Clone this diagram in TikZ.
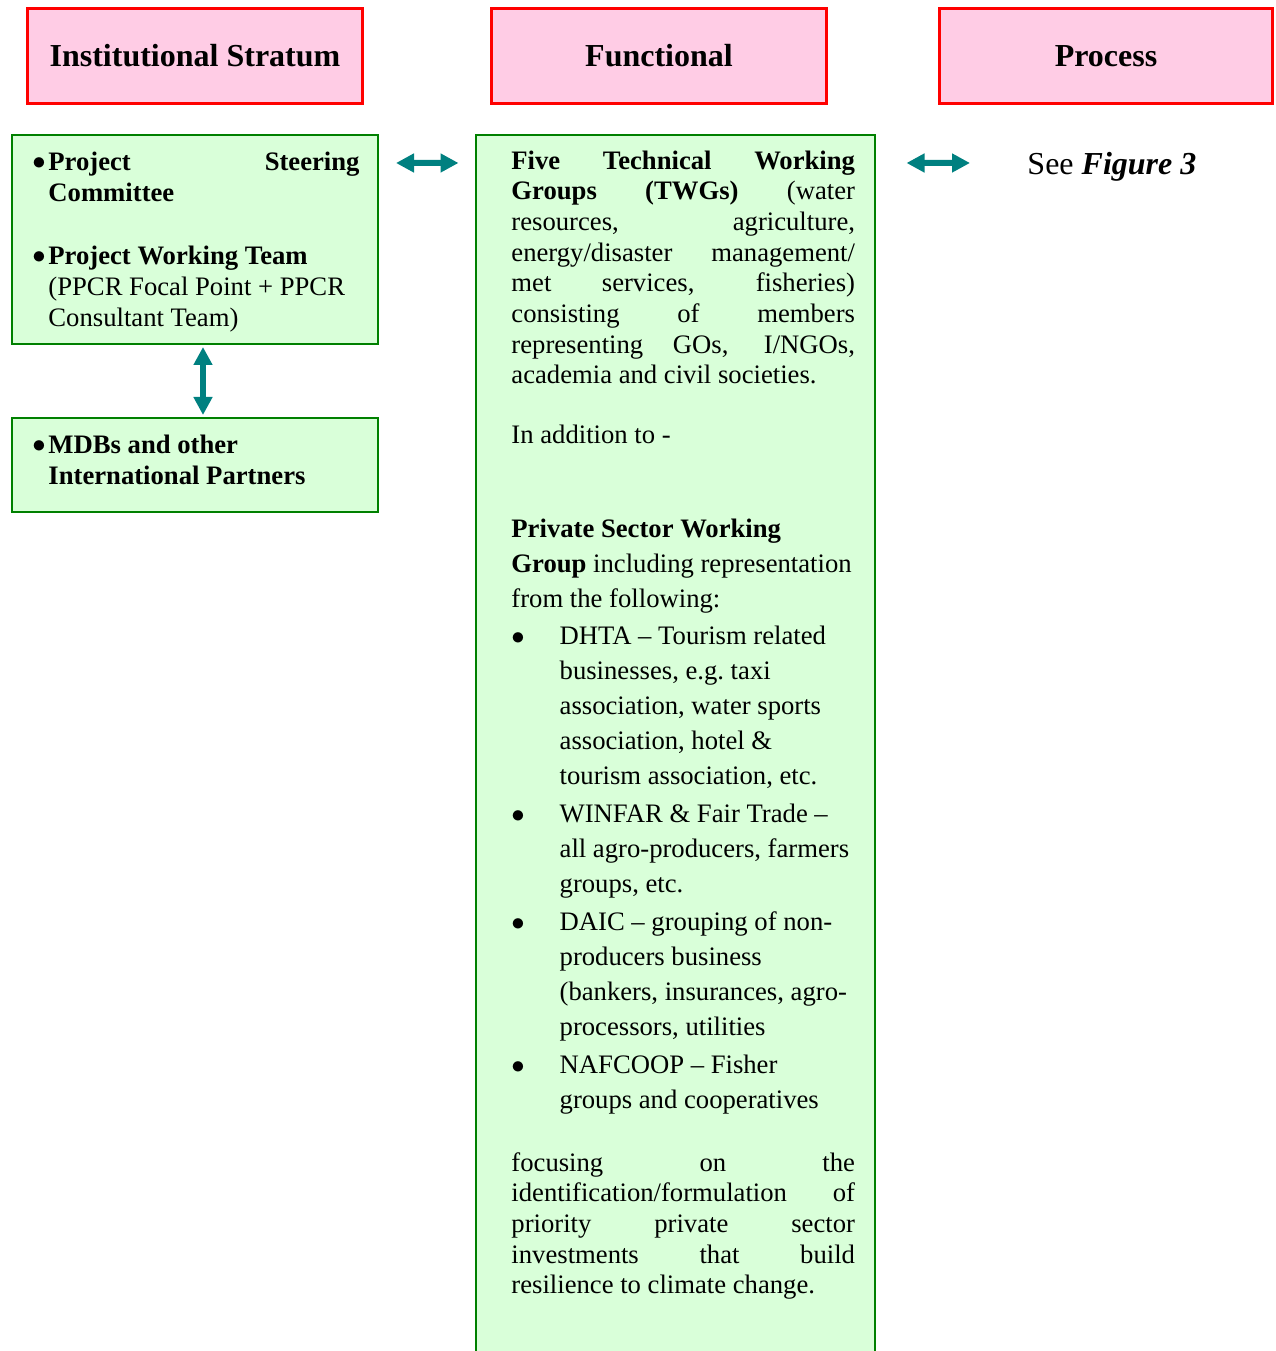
\documentclass[tikz,border=0pt]{standalone}
\usepackage{fontspec}
\setmainfont{Liberation Serif}
\usetikzlibrary{arrows.meta}
\definecolor{headpink}{RGB}{255,204,229}
\definecolor{boxgreen}{RGB}{217,255,217}
\definecolor{edgegreen}{RGB}{0,128,0}
\newcommand{\dotmark}{$\bullet$}
\tikzset{
    header/.style={draw=red, line width=1.5pt, fill=headpink, minimum width=150.75pt,
        minimum height=42.75pt, outer sep=0pt, font=\fontsize{14.4}{17}\selectfont\bfseries},
    greenbox/.style={draw=edgegreen, line width=0.9pt, fill=boxgreen, minimum width=164.7pt,
        outer sep=0pt, inner sep=0pt},
    boxtext/.style={inner sep=0pt, anchor=base west, font=\fontsize{12}{13.8}\selectfont},
    listtext/.style={boxtext, font=\fontsize{12}{15.75}\selectfont},
    biarrow/.style={{Triangle[width=8.1pt,length=8.1pt]}-{Triangle[width=8.1pt,length=8.1pt]},
        line width=2.7pt, draw=teal}
}
\begin{document}
\begin{tikzpicture}[x=0.45pt,y=-0.45pt]
    \useasboundingbox (0,0) rectangle (1275,1351);
    \clip (0,0) rectangle (1275,1351);

    % Column headers
    \node[header] (inst) at (195,56) {Institutional Stratum};
    \node[header] (func) at (659,56) {Functional};
    \node[header, minimum width=149.85pt] (proc) at (1106,56) {Process};

    % Institutional boxes
    \node[greenbox, minimum height=94.05pt] (steer) at (195,239.5) {};
    \node[greenbox, minimum height=42.3pt] (mdb) at (195,465) {};
    \node[boxtext] (psc) at (32,170.7) {\makebox[7.2pt][l]{\raisebox{0.5pt}{\dotmark}}%
        \parbox[t]{140pt}{\bfseries Project\hfill Steering\\Committee}};
    \node[boxtext] (pwt) at (32,265) {\makebox[7.2pt][l]{\raisebox{0.5pt}{\dotmark}}%
        \parbox[t]{140pt}{\raggedright\textbf{Project Working Team}\\(PPCR Focal Point + PPCR\\Consultant Team)}};
    \node[boxtext] (mdbtext) at (32,454) {\makebox[7.2pt][l]{\raisebox{0.5pt}{\dotmark}}%
        \parbox[t]{140pt}{\raggedright\bfseries MDBs and other\\International Partners}};

    % Functional box
    \node[greenbox, minimum width=179.55pt, minimum height=553.5pt] (midbox) at (675,750) {};
    \node[boxtext] (twg) at (511,169.3) {\parbox[t]{154.6pt}{\tolerance=10000
        \textbf{Five Technical Working\linebreak Groups (TWGs)} (water\linebreak
        resources, agriculture,\linebreak energy/disaster management/\linebreak
        met services, fisheries)\linebreak consisting of members\linebreak
        representing GOs, I/NGOs,\linebreak academia and civil societies.}};
    \node[boxtext] (addition) at (511,444) {In addition to -};
    \node[listtext] (psector) at (511,537.7) {\parbox[t]{154.6pt}{\raggedright
        \textbf{Private Sector Working\\Group} including representation\\from the following:}};
    \node[listtext] (dhta) at (511,644.3) {\makebox[21.7pt][l]{\dotmark}%
        \parbox[t]{133pt}{\raggedright DHTA -- Tourism related\\businesses, e.g.\ taxi\\
        association, water sports\\association, hotel \&\\tourism association, etc.}};
    \node[listtext] (winfar) at (511,822.7) {\makebox[21.7pt][l]{\dotmark}%
        \parbox[t]{133pt}{\raggedright WINFAR \& Fair Trade --\\all agro-producers, farmers\\groups, etc.}};
    \node[listtext] (daic) at (511,930) {\makebox[21.7pt][l]{\dotmark}%
        \parbox[t]{133pt}{\raggedright DAIC -- grouping of non-\\producers business\\
        (bankers, insurances, agro-\\processors, utilities}};
    \node[listtext] (nafcoop) at (511,1073.3) {\makebox[21.7pt][l]{\dotmark}%
        \parbox[t]{133pt}{\raggedright NAFCOOP -- Fisher\\groups and cooperatives}};
    \node[boxtext] (focus) at (511,1171) {\parbox[t]{154.6pt}{\tolerance=10000
        focusing on the\linebreak identification/formulation of\linebreak
        priority private sector\linebreak investments that build\linebreak
        resilience to climate change.}};

    % Process reference
    \node[boxtext, font=\fontsize{14.4}{17}\selectfont] (seefig) at (1027,175) {See \textbf{\textit{Figure 3}}};

    % Links
    \draw[biarrow] ([shift={(18,28)}]steer.north east) -- ([shift={(-17,28)}]midbox.north west);
    \draw[biarrow] ([shift={(32,28)}]midbox.north east) -- ([shift={(-57,-12)}]seefig.base west);
    \draw[biarrow] ([shift={(8,3)}]steer.south) -- ([shift={(8,-3)}]mdb.north);
\end{tikzpicture}
\end{document}
